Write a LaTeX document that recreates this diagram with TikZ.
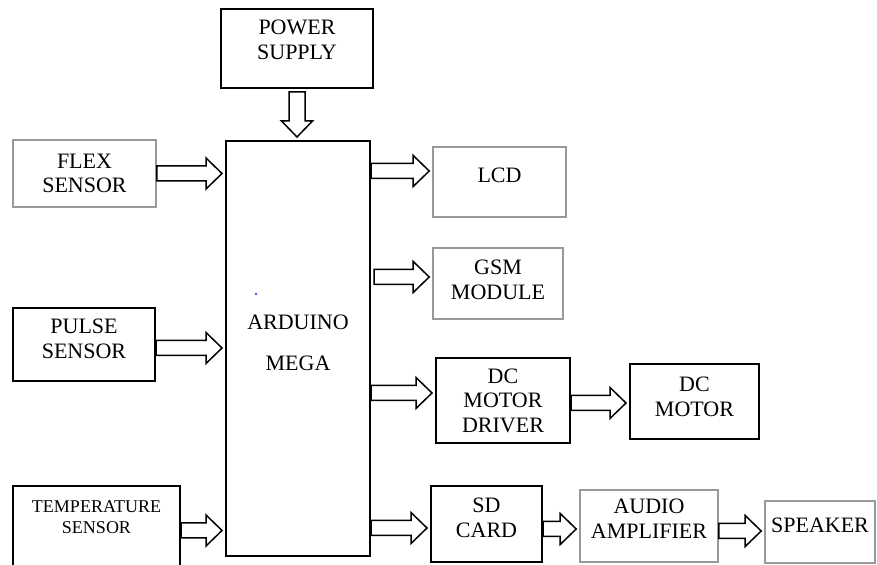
\documentclass[tikz,border=0pt]{standalone}
\usepackage{fontspec}
\setmainfont{Liberation Serif}
\usetikzlibrary{calc}
\tikzset{
  blk/.style={draw=black,line width=1pt,align=center,inner sep=2pt,
              font=\fontsize{11}{12.3}\selectfont},
  gblk/.style={blk,draw=black!40,line width=0.8pt},
  wh/.style 2 args={minimum width=#1*0.5pt,minimum height=#2*0.5pt},
  up/.style={text depth=#1pt},
  farr/.style={draw=black,line width=0.75pt,line join=miter},
}
% hollow block arrows, tip 1.5pt short of the target
\newcommand{\harr}[2]{%
  \draw[farr] let \p1=(#1), \p2=(#2) in
    (\x1,\y1+3.75pt) -- (\x2-9.5pt,\y1+3.75pt) -- (\x2-9.5pt,\y1+7.75pt)
    -- (\x2-1.5pt,\y1) -- (\x2-9.5pt,\y1-7.75pt) -- (\x2-9.5pt,\y1-3.75pt)
    -- (\x1,\y1-3.75pt) -- cycle;}
\newcommand{\varr}[2]{%
  \draw[farr] let \p1=(#1), \p2=(#2) in
    (\x1-4pt,\y1-1.5pt) -- (\x1-4pt,\y2+9.5pt) -- (\x1-7.75pt,\y2+9.5pt)
    -- (\x1,\y2+1.5pt) -- (\x1+7.75pt,\y2+9.5pt) -- (\x1+4pt,\y2+9.5pt)
    -- (\x1+4pt,\y1-1.5pt) -- cycle;}

\begin{document}
\begin{tikzpicture}[x=0.5pt,y=-0.5pt]
\clip (0,0) rectangle (877,565);
\node[blk,wh={152}{79},up=8.5] (power) at (297,48.5) {POWER\\SUPPLY};
\node[blk,wh={144}{415},up=6] (ard) at (298,348.5) {ARDUINO\\[8pt]MEGA};
\node[gblk,wh={143}{67}] (flex) at (84.5,173.5) {FLEX\\SENSOR};
\node[blk,wh={142}{73},up=5.5] (pulse) at (84,344.5) {PULSE\\SENSOR};
\node[blk,wh={167}{89},up=13.5,font=\fontsize{9}{10.7}\selectfont] (temp) at (96.5,530.5) {TEMPERATURE\\SENSOR};
\node[gblk,wh={133}{70},up=7] (lcd) at (499.5,182) {LCD};
\node[gblk,wh={130}{71},up=4] (gsm) at (498,283.5) {GSM\\MODULE};
\node[blk,wh={134}{85}] (dcd) at (503,400.5) {DC\\MOTOR\\DRIVER};
\node[blk,wh={129}{75},up=4.5] (dcm) at (694.5,401.5) {DC\\MOTOR};
\node[blk,wh={111}{76},up=6] (sd) at (486.5,524) {SD\\CARD};
\node[gblk,wh={138}{72},up=7] (amp) at (649,526) {AUDIO\\AMPLIFIER};
\node[gblk,wh={110}{62},up=7] (spk) at (820,532) {SPEAKER};
\fill[blue!70] (256,294) circle (0.7pt);

\varr{power.south}{ard.north}
\harr{flex.east}{flex.east -| ard.west}
\harr{$(pulse.east)+(0,-1.75pt)$}{pulse.east -| ard.west}
\harr{temp.east}{temp.east -| ard.west}
\harr{$(ard.east |- lcd.west)+(0,5.5pt)$}{lcd.west}
\harr{$(ard.east |- gsm.west)+(1.5pt,3.25pt)$}{gsm.west}
\harr{$(ard.east |- dcd.west)+(0,3.75pt)$}{dcd.west}
\harr{$(ard.east |- sd.west)+(0,-2pt)$}{sd.west}
\harr{$(dcd.east)+(0,-1.25pt)$}{dcm.west}
\harr{$(sd.east)+(0,-2.5pt)$}{amp.west}
\harr{$(amp.east)+(0,-2.5pt)$}{spk.west}
\end{tikzpicture}
\end{document}
